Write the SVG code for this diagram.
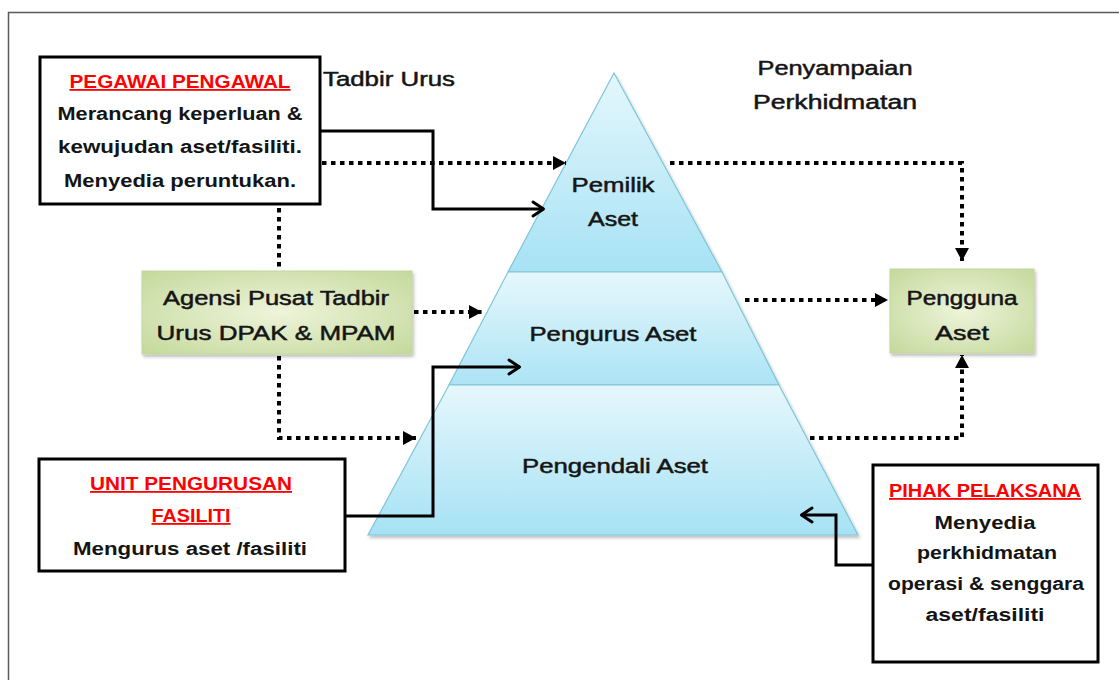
<svg xmlns="http://www.w3.org/2000/svg" width="1119" height="680" viewBox="0 0 1119 680">
<style>
  .t { font-family: "Liberation Sans", Arial, sans-serif; fill: #141414; text-anchor: middle; }
  .b { font-weight: bold; font-size: 18px; }
  .red { fill: #ff0000; text-decoration: underline; }
  .g { font-size: 20px; stroke: #1a1a1a; stroke-width: 0.5; }
  .dot { fill: none; stroke: #000; stroke-width: 4; stroke-dasharray: 4.5 4.5; }
  .sol { fill: none; stroke: #000; stroke-width: 3; }
  .box { fill: #fff; stroke: #000; stroke-width: 3; }
  .pyr { stroke: #7cc6d8; stroke-width: 1.2; }
  .green { fill: url(#gg); stroke: #c3d69e; stroke-width: 1; filter: url(#sh); }
</style>
<defs>
  <linearGradient id="p1" x1="0" y1="0" x2="0" y2="1">
    <stop offset="0" stop-color="#e4f7fc"/>
    <stop offset="1" stop-color="#a7e2f4"/>
  </linearGradient>
  <linearGradient id="p2" x1="0" y1="0" x2="0" y2="1">
    <stop offset="0" stop-color="#e6f7fc"/>
    <stop offset="1" stop-color="#ace4f5"/>
  </linearGradient>
  <linearGradient id="p3" x1="0" y1="0" x2="0" y2="1">
    <stop offset="0" stop-color="#e6f7fc"/>
    <stop offset="1" stop-color="#a6e2f4"/>
  </linearGradient>
  <radialGradient id="gg" cx="0.5" cy="0.5" r="0.7">
    <stop offset="0" stop-color="#eef4da"/>
    <stop offset="1" stop-color="#c4d99c"/>
  </radialGradient>
  <filter id="sh" x="-10%" y="-10%" width="125%" height="130%">
    <feDropShadow dx="1.5" dy="2.5" stdDeviation="1.5" flood-color="#000" flood-opacity="0.25"/>
  </filter>
  <marker id="tri" markerUnits="userSpaceOnUse" markerWidth="16" markerHeight="16" viewBox="-14 -8 16 16" refX="0" refY="0" orient="auto">
    <path d="M-13,-7 L0,0 L-13,7 Z" fill="#000"/>
  </marker>
  <marker id="chev" markerUnits="userSpaceOnUse" markerWidth="18" markerHeight="20" viewBox="-14 -10 18 20" refX="0" refY="0" orient="auto">
    <path d="M-11,-7 L-0.5,0 L-11,7" fill="none" stroke="#000" stroke-width="3" stroke-linecap="round" stroke-linejoin="round"/>
  </marker>
</defs>

<rect x="0" y="0" width="1119" height="680" fill="#fff"/>
<rect x="8.5" y="12.5" width="1200" height="800" fill="none" stroke="#5a5a5a" stroke-width="1.5"/>

<g id="pyramid" filter="url(#sh)">
  <polygon class="pyr" points="614,73 722,272 508,272" fill="url(#p1)"/>
  <polygon class="pyr" points="508,272 722,272 779,385 449,385" fill="url(#p2)"/>
  <polygon class="pyr" points="449,385 779,385 858,535 368,535" fill="url(#p3)"/>
</g>

<g id="connectors">
  <path class="dot" d="M322,163 H566" marker-end="url(#tri)"/>
  <path class="dot" d="M670,163 H962 V261" marker-end="url(#tri)"/>
  <path class="dot" d="M279,208 V270"/>
  <path class="dot" d="M279,356 V438 H416" marker-end="url(#tri)"/>
  <path class="dot" d="M414,312 H482" marker-end="url(#tri)"/>
  <path class="dot" d="M745,300 H888" marker-end="url(#tri)"/>
  <path class="dot" d="M810,438 H962 V355" marker-end="url(#tri)"/>
  <path class="sol" d="M321,131 H433 V209 H544" marker-end="url(#chev)"/>
  <path class="sol" d="M346,516 H433 V367 H520" marker-end="url(#chev)"/>
  <path class="sol" d="M872,565 H836 V515 H801" marker-end="url(#chev)"/>
</g>

<g id="pemilik">
  <text class="t g" x="613" y="192" textLength="83" lengthAdjust="spacingAndGlyphs">Pemilik</text>
  <text class="t g" x="613" y="226" textLength="50" lengthAdjust="spacingAndGlyphs">Aset</text>
</g>
<g id="pengurus">
  <text class="t g" x="613" y="341" textLength="167" lengthAdjust="spacingAndGlyphs">Pengurus Aset</text>
</g>
<g id="pengendali">
  <text class="t g" x="615" y="473" textLength="186" lengthAdjust="spacingAndGlyphs">Pengendali Aset</text>
</g>

<g id="tadbir-urus">
  <text class="t g" x="389" y="86" textLength="132" lengthAdjust="spacingAndGlyphs">Tadbir Urus</text>
</g>
<g id="penyampaian">
  <text class="t g" x="835" y="75" textLength="155" lengthAdjust="spacingAndGlyphs">Penyampaian</text>
  <text class="t g" x="835" y="109" textLength="164" lengthAdjust="spacingAndGlyphs">Perkhidmatan</text>
</g>

<g id="pegawai-pengawal">
  <rect class="box" x="40" y="57" width="280" height="147"/>
  <text class="t b red" x="180" y="88" textLength="221" lengthAdjust="spacingAndGlyphs">PEGAWAI PENGAWAL</text>
  <text class="t b" x="180" y="120" textLength="245" lengthAdjust="spacingAndGlyphs">Merancang keperluan &amp;</text>
  <text class="t b" x="180" y="153" textLength="244" lengthAdjust="spacingAndGlyphs">kewujudan  aset/fasiliti.</text>
  <text class="t b" x="180" y="187" textLength="232" lengthAdjust="spacingAndGlyphs">Menyedia peruntukan.</text>
</g>

<g id="agensi">
  <rect class="green" x="142" y="271" width="270" height="83"/>
  <text class="t g" x="276" y="305" textLength="226" lengthAdjust="spacingAndGlyphs">Agensi Pusat Tadbir</text>
  <text class="t g" x="276" y="340" textLength="239" lengthAdjust="spacingAndGlyphs">Urus DPAK &amp; MPAM</text>
</g>

<g id="pengguna">
  <rect class="green" x="890" y="269" width="144" height="84"/>
  <text class="t g" x="962" y="305" textLength="111" lengthAdjust="spacingAndGlyphs">Pengguna</text>
  <text class="t g" x="962" y="340" textLength="54" lengthAdjust="spacingAndGlyphs">Aset</text>
</g>

<g id="unit-pengurusan">
  <rect class="box" x="39" y="459" width="306" height="112"/>
  <text class="t b red" x="191" y="490" textLength="202" lengthAdjust="spacingAndGlyphs">UNIT PENGURUSAN</text>
  <text class="t b red" x="191" y="522" textLength="79" lengthAdjust="spacingAndGlyphs">FASILITI</text>
  <text class="t b" x="190" y="555" textLength="234" lengthAdjust="spacingAndGlyphs">Mengurus aset /fasiliti</text>
</g>

<g id="pihak-pelaksana">
  <rect class="box" x="873" y="465" width="225" height="197"/>
  <text class="t b red" x="985" y="497" textLength="192" lengthAdjust="spacingAndGlyphs">PIHAK PELAKSANA</text>
  <text class="t b" x="985" y="529" textLength="101" lengthAdjust="spacingAndGlyphs">Menyedia</text>
  <text class="t b" x="987" y="559" textLength="140" lengthAdjust="spacingAndGlyphs">perkhidmatan</text>
  <text class="t b" x="986" y="590" textLength="196" lengthAdjust="spacingAndGlyphs">operasi &amp; senggara</text>
  <text class="t b" x="985" y="621" textLength="119" lengthAdjust="spacingAndGlyphs">aset/fasiliti</text>
</g>
</svg>
